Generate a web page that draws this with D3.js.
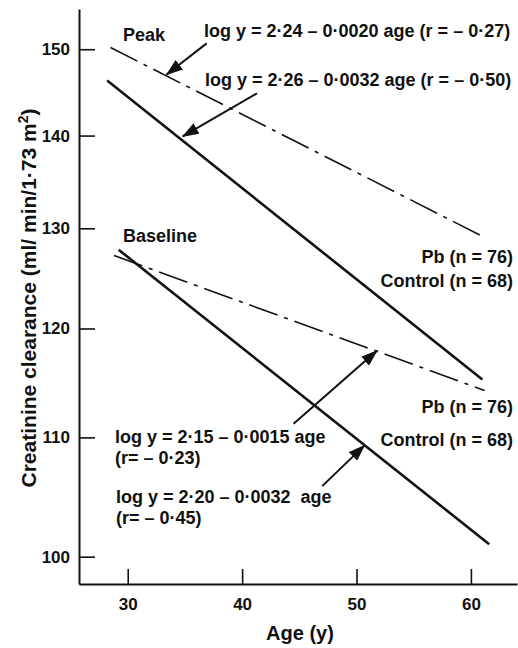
<!DOCTYPE html>
<html>
<head>
<meta charset="utf-8">
<script src="https://cdn.jsdelivr.net/npm/d3@7"></script>
<style>
  body { margin: 0; background: #fff; }
  text { font-family: "Liberation Sans", Arial, sans-serif; font-weight: bold; fill: #111; }
</style>
</head>
<body>
<div id="chart"></div>
<script>
// regression lines, [age, clearance] end points
const peakPb = [[28.5, 150.2], [60.8, 129.3]];
const peakControl = [[28.2, 146.3], [61.0, 115.2]];
const basePb = [[28.8, 127.2], [61.2, 114.2]];
const baseControl = [[29.2, 127.8], [61.6, 101.0]];

const xTicks = [30, 40, 50, 60];
const yTicks = [100, 110, 120, 130, 140, 150];

// arrows: tail -> tip, in [age, clearance]
const arrows = [
  [[36.9, 150.7], [33.4, 147.0]],
  [[41.3, 144.8], [34.8, 139.9]],
  [[44.5, 111.2], [51.8, 117.9]],
  [[47.0, 105.8], [50.7, 109.3]]
];

const width = 518;
const height = 648;

const svg = d3
  .select("#chart")
  .append("svg")
  .attr("width", width)
  .attr("height", height);

const x = d3.scaleLinear().domain([25.74, 64.03]).range([79, 517]);
const y = d3.scaleLog().domain([97.84, 154.9]).range([584, 9]);

// axes
const xAxis = svg
  .append("g")
  .attr("transform", "translate(0,584)")
  .call(
    d3.axisBottom(x).tickValues(xTicks).tickSize(-15).tickSizeOuter(0).tickPadding(14).tickFormat(d3.format("d"))
  );

const yAxis = svg
  .append("g")
  .attr("transform", "translate(79,0)")
  .call(
    d3.axisLeft(y).tickValues(yTicks).tickSize(-16).tickSizeOuter(0).tickPadding(9).tickFormat(d3.format("d"))
  );

[xAxis, yAxis].forEach((g) => {
  g.select(".domain").attr("stroke", "#111").attr("stroke-width", 2);
  g.selectAll(".tick line").attr("stroke", "#111").attr("stroke-width", 1.6);
  g.selectAll(".tick text")
    .attr("fill", "#111")
    .style("font-size", "17px")
    .style("font-family", "Liberation Sans, Arial, sans-serif")
    .style("font-weight", "bold");
});

// axis titles
svg
  .append("text")
  .attr("x", 300)
  .attr("y", 640)
  .attr("text-anchor", "middle")
  .style("font-size", "20px")
  .text("Age (y)");

const ylab = svg
  .append("text")
  .attr("transform", "translate(36,298) rotate(-90)")
  .attr("text-anchor", "middle")
  .style("font-size", "21px");
ylab.append("tspan").text("Creatinine clearance (ml/ min/1·73 m");
ylab.append("tspan").attr("dy", -8).style("font-size", "14px").text("2");
ylab.append("tspan").attr("dy", 8).text(")");

// regression lines
const line = d3
  .line()
  .x((d) => x(d[0]))
  .y((d) => y(d[1]));

const series = [
  { pts: peakPb, dash: true },
  { pts: peakControl, dash: false },
  { pts: basePb, dash: true },
  { pts: baseControl, dash: false }
];

svg
  .append("g")
  .selectAll("path")
  .data(series)
  .join("path")
  .attr("d", (d) => line(d.pts))
  .attr("fill", "none")
  .attr("stroke", "#111")
  .attr("stroke-width", (d) => (d.dash ? 1.6 : 2.6))
  .attr("stroke-dasharray", (d) => (d.dash ? "30 7 4 7" : null));

// arrows
svg
  .append("defs")
  .append("marker")
  .attr("id", "head")
  .attr("markerUnits", "userSpaceOnUse")
  .attr("markerWidth", 17)
  .attr("markerHeight", 12)
  .attr("refX", 16)
  .attr("refY", 6)
  .attr("orient", "auto")
  .append("path")
  .attr("d", "M0,0L17,6L0,12Z")
  .attr("fill", "#111");

svg
  .append("g")
  .selectAll("line")
  .data(arrows)
  .join("line")
  .attr("x1", (d) => x(d[0][0]))
  .attr("y1", (d) => y(d[0][1]))
  .attr("x2", (d) => x(d[1][0]))
  .attr("y2", (d) => y(d[1][1]))
  .attr("stroke", "#111")
  .attr("stroke-width", 2)
  .attr("marker-end", "url(#head)");

// annotations
const notes = [
  { t: "Peak", x: 123, y: 41, a: "start" },
  { t: "log y = 2·24 – 0·0020 age (r = – 0·27)", x: 204, y: 37, a: "start" },
  { t: "log y = 2·26 – 0·0032 age (r = – 0·50)", x: 205, y: 86, a: "start" },
  { t: "Baseline", x: 123, y: 242, a: "start" },
  { t: "Pb (n = 76)", x: 513, y: 263, a: "end" },
  { t: "Control (n = 68)", x: 513, y: 287, a: "end" },
  { t: "Pb (n = 76)", x: 513, y: 413, a: "end" },
  { t: "Control (n = 68)", x: 513, y: 446, a: "end" },
  { t: "log y = 2·15 – 0·0015 age", x: 115, y: 443, a: "start" },
  { t: "(r= – 0·23)", x: 115, y: 464, a: "start" },
  { t: "log y = 2·20 – 0·0032  age", x: 116, y: 503, a: "start" },
  { t: "(r= – 0·45)", x: 116, y: 524, a: "start" }
];

svg
  .append("g")
  .selectAll("text")
  .data(notes)
  .join("text")
  .attr("x", (d) => d.x)
  .attr("y", (d) => d.y)
  .attr("text-anchor", (d) => d.a)
  .style("font-size", "18px")
  .style("white-space", "pre")
  .text((d) => d.t);
</script>
</body>
</html>
